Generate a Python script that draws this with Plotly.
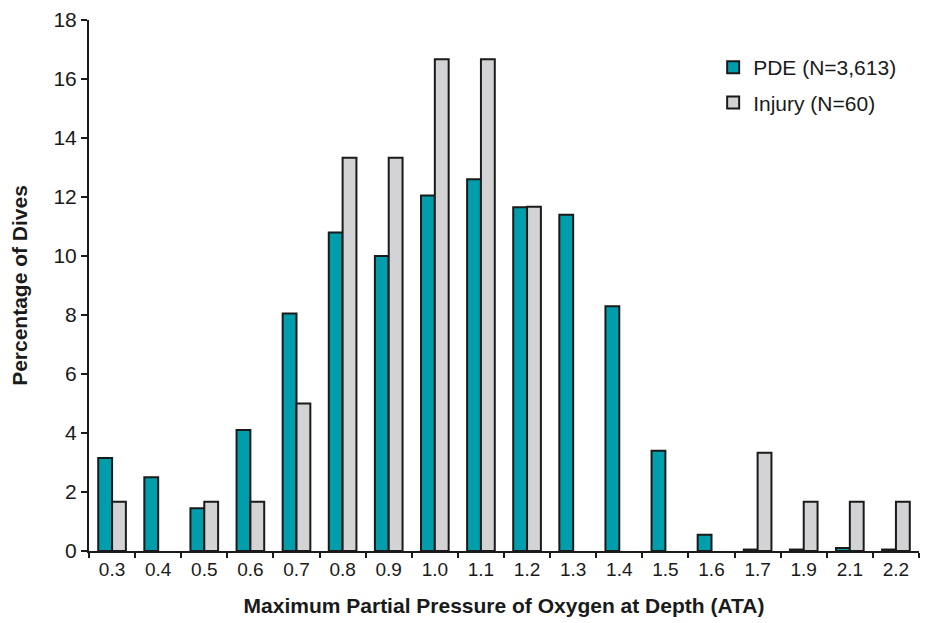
import plotly.graph_objects as go

categories = ["0.3", "0.4", "0.5", "0.6", "0.7", "0.8", "0.9", "1.0", "1.1",
              "1.2", "1.3", "1.4", "1.5", "1.6", "1.7", "1.9", "2.1", "2.2"]
pde_values = [3.15, 2.5, 1.45, 4.1, 8.05, 10.8, 10.0, 12.05, 12.6,
              11.65, 11.4, 8.3, 3.4, 0.55, 0.05, 0.05, 0.1, 0.05]
injury_values = [1.67, None, 1.67, 1.67, 5.0, 13.33, 13.33, 16.67, 16.67,
                 11.67, None, None, None, None, 3.33, 1.67, 1.67, 1.67]

FONT = "Liberation Sans, Arial, sans-serif"

fig = go.Figure()
fig.add_trace(go.Bar(
    x=categories, y=pde_values, name="PDE (N=3,613)", legendgroup="a",
    marker=dict(color="#009EAD", line=dict(color="#1a1a1a", width=2)),
))
fig.add_trace(go.Bar(
    x=categories, y=injury_values, name="Injury (N=60)", legendgroup="b",
    marker=dict(color="#D3D3D5", line=dict(color="#1a1a1a", width=2)),
))

fig.update_layout(
    width=922, height=615,
    margin=dict(l=81, r=11, t=12, b=72),
    paper_bgcolor="white", plot_bgcolor="white",
    barmode="group", bargap=0.4, bargroupgap=0,
    font=dict(family=FONT, size=19, color="#1a1a1a"),
    legend=dict(x=0.752, y=0.949, xanchor="left", yanchor="top",
                font=dict(size=21), bgcolor="rgba(0,0,0,0)",
                itemwidth=30, tracegroupgap=5),
    showlegend=True,
)
fig.update_xaxes(
    type="category", showline=True, linecolor="#1a1a1a", linewidth=2,
    ticks="outside", tickson="boundaries", ticklen=5, tickwidth=2,
    tickcolor="#1a1a1a", showgrid=False, automargin=False,
    tickfont=dict(size=19),
    title=dict(text="<b>Maximum Partial Pressure of Oxygen at Depth (ATA)</b>",
               font=dict(size=21), standoff=20),
)
fig.update_yaxes(
    range=[0, 18], dtick=2, showline=True, linecolor="#1a1a1a", linewidth=2,
    ticks="outside", ticklen=6, tickwidth=2, tickcolor="#1a1a1a",
    showgrid=False, zeroline=False, tickfont=dict(size=21), automargin=False,
    title=dict(text="<b>Percentage of Dives</b>", font=dict(size=21), standoff=23),
)

fig.write_html("out.html")
